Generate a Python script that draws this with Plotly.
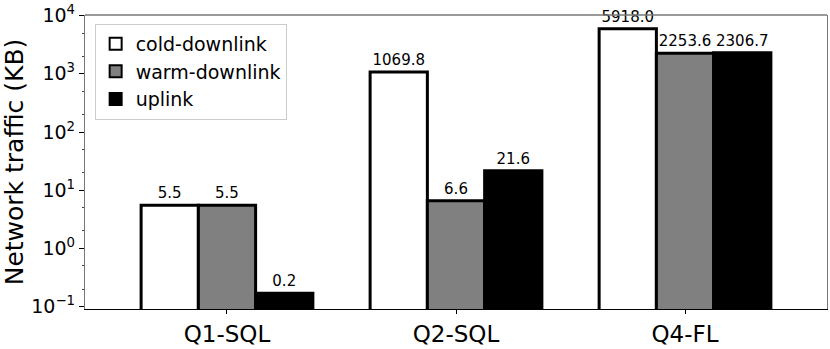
import plotly.graph_objects as go

# Data
queries = ["Q1-SQL", "Q2-SQL", "Q4-FL"]
cold_downlink = [5.5, 1069.8, 5918.0]
warm_downlink = [5.5, 6.6, 2253.6]
uplink = [0.17, 21.6, 2306.7]

series = [
    ("cold-downlink", cold_downlink, "white"),
    ("warm-downlink", warm_downlink, "#808080"),
    ("uplink", uplink, "black"),
]

ytick_vals = [0.1, 1, 10, 100, 1000, 10000]
ytick_text = ["10<sup>−1</sup>", "10<sup>0</sup>", "10<sup>1</sup>",
              "10<sup>2</sup>", "10<sup>3</sup>", "10<sup>4</sup>"]

fig = go.Figure()

for name, vals, color in series:
    fig.add_trace(go.Bar(
        x=queries,
        y=vals,
        name=name,
        marker=dict(color=color, line=dict(color="black", width=3)),
        text=[f"{v:.1f}" for v in vals],
        textposition="outside",
        textfont=dict(size=15, color="black", family="DejaVu Sans"),
        constraintext="none",
        cliponaxis=False,
    ))

fig.update_layout(
    barmode="group",
    bargap=0.25,
    bargroupgap=0,
    width=830,
    height=349,
    plot_bgcolor="white",
    paper_bgcolor="white",
    font=dict(family="DejaVu Sans", color="black"),
    margin=dict(l=85, r=2, t=8, b=33),
    legend=dict(
        x=0.013, y=0.97, xanchor="left", yanchor="top",
        bgcolor="rgba(255,255,255,0.8)",
        bordercolor="#cccccc", borderwidth=1,
        font=dict(size=19),
        itemsizing="constant",
        tracegroupgap=4,
    ),
    xaxis=dict(
        range=[-0.62, 2.62],
        showline=True, linecolor="black", linewidth=1.3,
        ticks="outside", ticklen=4, tickcolor="black",
        tickfont=dict(size=23),
        showgrid=False,
    ),
    yaxis=dict(
        type="log",
        range=[-1.04, 4.01],
        tickvals=ytick_vals,
        ticktext=ytick_text,
        tickfont=dict(size=19),
        ticklabeloverflow="allow",
        ticks="outside", ticklen=5, tickcolor="black",
        minor=dict(ticks="outside", ticklen=2, tickcolor="#444", showgrid=False),
        showline=True, linecolor="#777777", linewidth=1.3, mirror=True,
        showgrid=False,
        title=dict(text="Network traffic (KB)", font=dict(size=25), standoff=4),
    ),
    shapes=[dict(type="line", xref="paper", yref="paper", x0=0, x1=1, y0=1, y1=1,
                 line=dict(color="#777777", width=1.3))],
)

# page has a default 8px body margin; drop it so the figure sits at 0,0
fig.write_html("out.html", config={"displayModeBar": False},
               post_script="document.body.style.margin='0';")
